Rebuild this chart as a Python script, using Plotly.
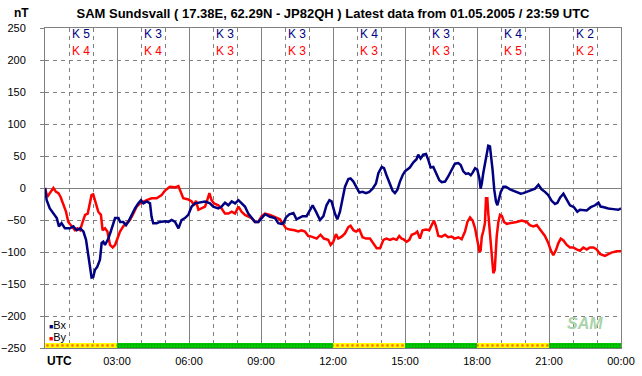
import plotly.graph_objects as go

# ---------------- data ----------------
hours_bx = [0, 0.07, 0.2, 0.35, 0.49, 0.58, 0.69, 0.83, 1.04, 1.18, 1.32, 1.46, 1.6, 1.71, 1.8, 1.875, 1.94, 2.01,
            2.08, 2.18, 2.29, 2.36, 2.43, 2.5, 2.57, 2.64, 2.74, 2.85, 2.92, 3.06, 3.13, 3.26, 3.375, 3.47, 3.61,
            3.75, 3.89, 4.0, 4.1, 4.24, 4.375, 4.44, 4.51, 4.65, 4.79, 5.0, 5.14, 5.28, 5.42, 5.56, 5.69, 5.83,
            5.97, 6.11, 6.25, 6.39, 6.53, 6.67, 6.875, 7.01, 7.22, 7.36, 7.5, 7.64, 7.78, 7.92, 8.06, 8.19, 8.33,
            8.47, 8.61, 8.75, 8.89, 9.03, 9.17, 9.375, 9.58, 9.72, 9.86, 9.93, 10.04, 10.18, 10.35, 10.48, 10.62,
            10.73, 10.9, 11.04, 11.15, 11.29, 11.46, 11.6, 11.73, 11.85, 11.94, 12.08, 12.18, 12.29, 12.4, 12.5,
            12.64, 12.73, 12.85, 12.96, 13.1, 13.23, 13.375, 13.51, 13.65, 13.79, 13.89, 14.03, 14.125, 14.23,
            14.375, 14.48, 14.58, 14.68, 14.79, 14.9, 15.0, 15.07, 15.2, 15.35, 15.48, 15.55, 15.65, 15.76,
            15.875, 15.97, 16.07, 16.18, 16.29, 16.43, 16.53, 16.67, 16.8, 16.94, 17.08, 17.22, 17.32, 17.43,
            17.54, 17.64, 17.74, 17.82, 17.92, 18.01, 18.1, 18.15, 18.2, 18.26, 18.33, 18.4, 18.47, 18.54, 18.58,
            18.65, 18.72, 18.79, 18.85, 18.9, 18.99, 19.1, 19.2, 19.375, 19.51, 19.65, 19.82, 19.93, 20.07, 20.28,
            20.42, 20.56, 20.69, 20.83, 20.97, 21.11, 21.25, 21.35, 21.46, 21.6, 21.74, 21.875, 22.04, 22.18,
            22.29, 22.43, 22.57, 22.74, 22.92, 23.06, 23.15, 23.29, 23.47, 23.68, 23.89, 24.0]
bx_values = [0, -19, -32, -40, -47, -60, -55, -63, -63, -60, -66, -63, -68, -81, -102, -123, -140, -139,
             -128, -123, -112, -86, -84, -89, -84, -79, -68, -55, -47, -47, -53, -53, -58, -53, -42,
             -32, -24, -19, -24, -21, -24, -45, -55, -55, -53, -52, -53, -50, -53, -63, -50, -47,
             -42, -29, -24, -23, -23, -21, -24, -29, -32, -29, -23, -27, -21, -24, -19, -24, -29,
             -40, -47, -53, -53, -47, -41, -45, -47, -55, -56, -55, -46, -41, -39, -49, -46,
             -44, -44, -34, -27, -37, -50, -44, -27, -19, -21, -40, -49, -37, -19, 2,
             14, 15, 10, 2, -7, -6, -8, -6, -1, 7, 23, 33, 31, 20,
             7, -4, -8, -3, 10, 20, 26, 28, 32, 40, 45, 52, 46, 52,
             53, 44, 32, 33, 23, 12, 9, 10, 18, 28, 38, 39, 36, 26,
             22, 23, 20, 24, 31, 29, 15, -1, 7, 23, 36, 54, 66, 65, 54,
             28, -3, -21, -27, -19, -6, 2, 2, -2, -4, -6, -9, -8, -6, -2,
             -1, 5, -2, -6, -11, -20, -25, -23, -15, -9, -19, -27, -30, -37,
             -34, -34, -35, -30, -27, -23, -29, -30, -32, -33, -34, -32]

hours_by = [0, 0.1, 0.2, 0.35, 0.46, 0.56, 0.65, 0.76, 0.875, 0.97, 1.11, 1.25, 1.35, 1.46, 1.57, 1.67, 1.78,
            1.875, 1.94, 2.01, 2.125, 2.22, 2.33, 2.4, 2.5, 2.6, 2.71, 2.82, 2.92, 3.01, 3.125, 3.26, 3.4, 3.54,
            3.68, 3.82, 3.96, 4.1, 4.24, 4.44, 4.65, 4.86, 5.0, 5.2, 5.42, 5.56, 5.65, 5.76, 5.97, 6.11, 6.21,
            6.29, 6.39, 6.53, 6.67, 6.76, 6.85, 6.94, 7.04, 7.22, 7.36, 7.5, 7.64, 7.78, 7.92, 8.06, 8.19, 8.33,
            8.47, 8.61, 8.75, 8.89, 9.03, 9.17, 9.375, 9.58, 9.72, 9.79, 9.9, 10.04, 10.2, 10.4, 10.55, 10.69,
            10.83, 10.97, 11.11, 11.32, 11.48, 11.62, 11.8, 11.9, 12.01, 12.125, 12.22, 12.36, 12.5, 12.64,
            12.73, 12.85, 12.96, 13.1, 13.23, 13.375, 13.54, 13.68, 13.82, 13.96, 14.1, 14.23, 14.375, 14.51,
            14.65, 14.76, 14.86, 14.93, 15.07, 15.18, 15.28, 15.42, 15.51, 15.62, 15.73, 15.875, 16.01, 16.11,
            16.21, 16.29, 16.39, 16.53, 16.67, 16.8, 16.94, 17.08, 17.22, 17.36, 17.5, 17.6, 17.71, 17.82,
            17.92, 18.01, 18.1, 18.15, 18.2, 18.26, 18.33, 18.375, 18.43, 18.47, 18.51, 18.57, 18.62, 18.68,
            18.74, 18.78, 18.82, 18.89, 18.96, 19.04, 19.125, 19.24, 19.44, 19.65, 19.86, 20.07, 20.2, 20.35,
            20.49, 20.6, 20.69, 20.83, 20.97, 21.07, 21.18, 21.29, 21.39, 21.49, 21.6, 21.74, 21.875, 22.01,
            22.15, 22.29, 22.43, 22.57, 22.71, 22.85, 22.99, 23.12, 23.33, 23.47, 23.6, 23.82, 24.0]
by_values = [0, -14, -8, 0, -6, -8, -14, -24, -37, -53, -60, -66, -63, -66, -53, -42, -40,
             -21, -11, -10, -24, -37, -42, -66, -63, -68, -89, -93, -89, -81, -68, -60, -55, -50,
             -40, -29, -24, -21, -19, -16, -16, -11, -4, 2, 1, 3, -6, -16, -18, -21, -27,
             -20, -34, -32, -29, -19, -8, -19, -24, -27, -32, -40, -40, -37, -40, -29, -37, -42,
             -45, -47, -53, -53, -44, -40, -42, -45, -47, -49, -55, -63, -65, -66, -68, -66,
             -68, -75, -76, -79, -73, -79, -81, -89, -84, -72, -79, -76, -71, -61,
             -59, -66, -68, -65, -77, -79, -79, -86, -94, -94, -81, -79, -81, -79,
             -81, -75, -79, -80, -84, -81, -73, -71, -68, -79, -66, -65, -66, -58,
             -51, -60, -75, -76, -73, -77, -76, -79, -77, -80, -68, -53, -46, -51,
             -63, -81, -99, -98, -76, -68, -55, -16, -16, -40, -60, -86, -113, -133,
             -128, -102, -76, -53, -42, -44, -53, -56, -55, -53, -51, -53, -58, -60,
             -58, -63, -68, -75, -86, -97, -105, -97, -86, -79, -82, -89, -93, -93,
             -96, -98, -93, -96, -93, -93, -96, -103, -106, -103, -101, -99, -99]

k_bx = [5, 3, 3, 3, 4, 3, 4, 2]
k_by = [4, 4, 3, 3, 3, 3, 5, 2]
k_centers = [1.5, 4.5, 7.5, 10.5, 13.5, 16.5, 19.5, 22.5]
status_disturbed = [True, False, False, False, True, False, True, False]

tick_hours = [3, 6, 9, 12, 15, 18, 21, 24]
tick_text = ["03:00", "06:00", "09:00", "12:00", "15:00", "18:00", "21:00", "00:00"]
y_ticks = [250, 200, 150, 100, 50, 0, -50, -100, -150, -200, -250]

BX_COLOR = "#000080"
BY_COLOR = "#FF0000"
GRID = "#808080"
FONT = "Liberation Sans, Arial, sans-serif"

fig = go.Figure()

# status bar along the bottom
for disturbed, bg, fg, size, sol in [(True, "#FFFF00", "#FF0000", 5, 0.25),
                                     (False, "#00D000", "#007A00", 3, 0.4)]:
    xs = [c for c, d in zip(k_centers, status_disturbed) if d == disturbed]
    fig.add_trace(go.Bar(
        x=xs, y=[8] * len(xs), base=-250, width=3,
        marker=dict(color=bg, line=dict(width=0),
                    pattern=dict(shape=".", fgcolor=fg, bgcolor=bg, size=size, solidity=sol)),
        showlegend=False, hoverinfo="skip"))

fig.add_trace(go.Scatter(x=hours_by, y=by_values, mode="lines", name="By",
                         line=dict(color=BY_COLOR, width=2.5), showlegend=False))
fig.add_trace(go.Scatter(x=hours_bx, y=bx_values, mode="lines", name="Bx",
                         line=dict(color=BX_COLOR, width=2.5), showlegend=False))


def paper_y(pixel_y):
    return (348 - pixel_y) / 320


def paper_x(pixel_x):
    return (pixel_x - 45) / 576


annotations = []
for c, kb, ky in zip(k_centers, k_bx, k_by):
    annotations.append(dict(x=c, y=paper_y(34), xref="x", yref="paper", yanchor="middle", text=f"K {kb}",
                            showarrow=False, font=dict(family=FONT, size=12, color=BX_COLOR)))
    annotations.append(dict(x=c, y=paper_y(50.5), xref="x", yref="paper", yanchor="middle", text=f"K {ky}",
                            showarrow=False, font=dict(family=FONT, size=12, color=BY_COLOR)))

annotations += [
    dict(x=0, y=paper_y(361), xref="paper", yref="paper", text="<b>UTC</b>", xanchor="left", yanchor="middle",
         showarrow=False, font=dict(family=FONT, size=12, color="black")),
    dict(x=paper_x(47), y=paper_y(325), xref="paper", yref="paper", xanchor="left", yanchor="middle",
         text=f"<span style='font-size:7px;color:{BX_COLOR}'>■</span>Bx",
         showarrow=False, font=dict(family=FONT, size=11, color="black")),
    dict(x=paper_x(47), y=paper_y(337), xref="paper", yref="paper", xanchor="left", yanchor="middle",
         text=f"<span style='font-size:7px;color:{BY_COLOR}'>■</span>By",
         showarrow=False, font=dict(family=FONT, size=11, color="black")),
    dict(x=paper_x(585), y=paper_y(323), xref="paper", yref="paper", xanchor="center", yanchor="middle",
         text="<b><i>SAM</i></b>", showarrow=False,
         font=dict(family=FONT, size=16, color="#a9d3a9")),
    # unit label above the y tick labels
    dict(x=0, y=1, xref="paper", yref="paper", xanchor="center", yanchor="middle",
         xshift=-24, yshift=15, text="<b>nT</b>", showarrow=False,
         font=dict(family=FONT, size=12, color="black")),
]

fig.update_layout(
    width=642, height=376,
    margin=dict(l=45, r=21, t=28, b=28, pad=0, autoexpand=False),
    paper_bgcolor="white", plot_bgcolor="white",
    title=dict(text="<b>SAM Sundsvall ( 17.38E, 62.29N - JP82QH ) Latest data from 01.05.2005 / 23:59 UTC</b>",
               x=0.5, xref="paper", y=1 - 13 / 376, yref="container", yanchor="middle", xanchor="center",
               font=dict(family=FONT, size=13, color="black")),
    font=dict(family=FONT, size=11, color="black"),
    annotations=annotations,
    barmode="overlay",
    showlegend=False,
)

fig.update_xaxes(
    range=[0, 24], tickmode="array", tickvals=tick_hours, ticktext=tick_text,
    showgrid=True, gridcolor=GRID, gridwidth=1,
    minor=dict(tickmode="linear", tick0=0, dtick=1, showgrid=True, gridcolor=GRID,
               griddash="4px,4px", gridwidth=1),
    showline=True, linecolor=GRID, linewidth=1, mirror=True,
    ticks="", zeroline=False, fixedrange=True, automargin=False, ticklabelstandoff=3,
    tickfont=dict(family=FONT, size=11, color="black"),
)
fig.update_yaxes(
    range=[-250, 250], tickmode="array", tickvals=y_ticks,
    showgrid=True, gridcolor=GRID, gridwidth=1, griddash="4px,4px",
    zeroline=True, zerolinecolor=GRID, zerolinewidth=1,
    showline=True, linecolor=GRID, linewidth=1, mirror=True,
    ticks="outside", ticklen=4, tickcolor=GRID, ticklabelstandoff=12,
    tickfont=dict(family=FONT, size=11, color="black"), fixedrange=True, automargin=False,
)

fig.write_html("out.html", config={"displayModeBar": False},
               post_script="document.body.style.margin='0';document.body.style.overflow='hidden';")
